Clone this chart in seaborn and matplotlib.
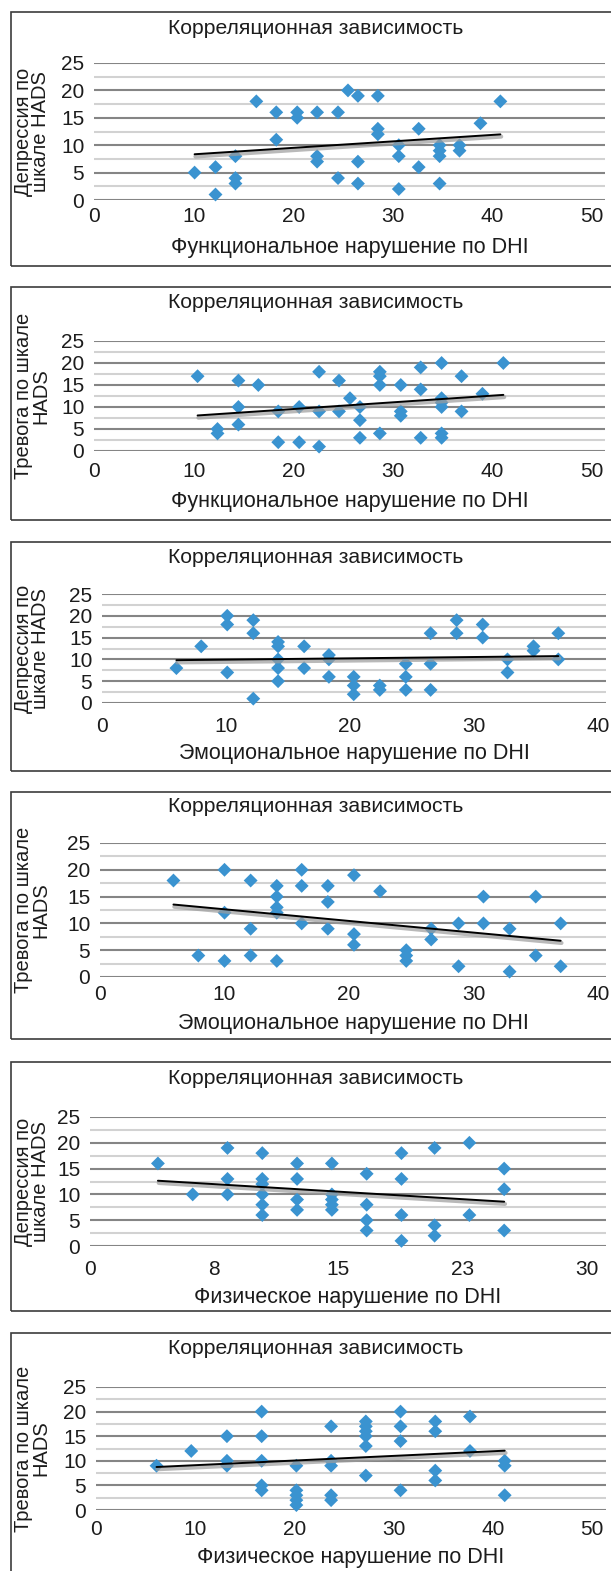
import numpy as np
import pandas as pd
import seaborn as sns
import matplotlib.pyplot as plt
import matplotlib.patheffects as pe
from matplotlib.patches import Rectangle

# ---------------- data ----------------
# 1) functional DHI vs depression
func_x1 = [10.1, 12.2, 12.2, 14.2, 14.2, 14.2, 16.3, 18.3, 18.3, 20.4, 20.4, 22.4,
           22.4, 22.4, 24.5, 24.5, 25.5, 26.5, 26.5, 26.5, 28.5, 28.5, 28.5, 30.6,
           30.6, 30.6, 32.6, 32.6, 34.7, 34.7, 34.7, 34.7, 36.7, 36.7, 38.8, 40.8]
depr_y1 = [5, 6, 1, 8, 4, 3, 18, 16, 11, 16, 15, 16,
           8, 7, 16, 4, 20, 19, 7, 3, 19, 13, 12, 10,
           8, 2, 13, 6, 10, 9, 8, 3, 10, 9, 14, 18]

# 2) functional DHI vs anxiety
func_x2 = [10.4, 12.4, 12.4, 14.5, 14.5, 14.5, 16.5, 18.5, 18.5, 20.6, 20.6, 22.6,
           22.6, 22.6, 24.6, 24.6, 25.7, 26.7, 26.7, 26.7, 28.7, 28.7, 28.7, 28.7,
           30.8, 30.8, 30.8, 32.8, 32.8, 32.8, 34.9, 34.9, 34.9, 34.9, 34.9, 34.9,
           36.9, 36.9, 39.0, 41.1]
anx_y2 = [17, 5, 4, 16, 10, 6, 15, 9, 2, 10, 2, 18,
          9, 1, 16, 9, 12, 10, 7, 3, 18, 17, 15, 4,
          15, 9, 8, 19, 14, 3, 20, 12, 11, 10, 4, 3,
          17, 9, 13, 20]

# 3) emotional DHI vs depression
emo_x3 = [6.0, 8.0, 10.1, 10.1, 10.1, 12.2, 12.2, 12.2, 14.2, 14.2, 14.2, 14.2, 14.2,
          16.3, 16.3, 18.3, 18.3, 18.3, 20.3, 20.3, 20.3, 22.4, 22.4, 24.5, 24.5, 24.5,
          26.5, 26.5, 26.5, 28.6, 28.6, 30.7, 30.7, 32.7, 32.7, 34.8, 34.8, 36.8, 36.8]
depr_y3 = [8, 13, 20, 18, 7, 19, 16, 1, 14, 13, 10, 8, 5,
           13, 8, 11, 10, 6, 6, 4, 2, 4, 3, 9, 6, 3,
           16, 9, 3, 19, 16, 18, 15, 10, 7, 13, 12, 16, 10]

# 4) emotional DHI vs anxiety
emo_x4 = [5.9, 7.9, 10.0, 10.0, 10.0, 12.1, 12.1, 12.1, 14.2, 14.2, 14.2, 14.2, 14.2,
          16.2, 16.2, 16.2, 18.3, 18.3, 18.3, 20.4, 20.4, 20.4, 22.5, 24.6, 24.6, 24.6,
          26.6, 26.6, 28.8, 28.8, 30.8, 30.8, 32.9, 32.9, 35.0, 35.0, 37.0, 37.0]
anx_y4 = [18, 4, 20, 12, 3, 18, 9, 4, 17, 15, 13, 12, 3,
          20, 17, 10, 17, 14, 9, 19, 8, 6, 16, 5, 4, 3,
          9, 7, 10, 2, 15, 10, 9, 1, 15, 4, 10, 2]

# 5) physical DHI vs depression
phys_x5 = [4.1, 6.2, 8.3, 8.3, 8.3, 10.4, 10.4, 10.4, 10.4, 10.4, 10.4, 12.5,
           12.5, 12.5, 12.5, 14.6, 14.6, 14.6, 14.6, 14.6, 16.7, 16.7, 16.7, 16.7,
           18.8, 18.8, 18.8, 18.8, 20.8, 20.8, 20.8, 22.9, 22.9, 25.0, 25.0, 25.0]
depr_y5 = [16, 10, 19, 13, 10, 18, 13, 12, 10, 8, 6, 16,
           13, 9, 7, 16, 10, 9, 8, 7, 14, 8, 5, 3,
           18, 13, 6, 1, 19, 4, 2, 20, 6, 15, 11, 3]

# 6) physical DHI vs anxiety
phys_x6 = [6.1, 9.6, 13.2, 13.2, 13.2, 16.7, 16.7, 16.7, 16.7, 16.7, 20.2, 20.2, 20.2,
           20.2, 20.2, 23.7, 23.7, 23.7, 23.7, 23.7, 27.2, 27.2, 27.2, 27.2, 27.2, 27.2,
           30.7, 30.7, 30.7, 30.7, 34.2, 34.2, 34.2, 34.2, 37.7, 37.7, 41.2, 41.2, 41.2]
anx_y6 = [9, 12, 15, 10, 9, 20, 15, 10, 5, 4, 9, 4, 3,
          2, 1, 17, 10, 9, 3, 2, 18, 17, 16, 15, 13, 7,
          20, 17, 14, 4, 18, 16, 8, 6, 19, 12, 10, 9, 3]

title = "Корреляционная зависимость"
ylab_depr = "Депрессия по\nшкале HADS"
ylab_anx = "Тревога по шкале\nHADS"
xlab_func = "Функциональное нарушение по DHI"
xlab_emo = "Эмоциональное нарушение по DHI"
xlab_phys = "Физическое нарушение по DHI"

ticks_50 = [0, 10, 20, 30, 40, 50]
ticks_40 = [0, 10, 20, 30, 40]
ticks_30 = [0, 7.5, 15, 22.5, 30]
ticklabels_30 = ["0", "8", "15", "23", "30"]

# ---------------- style ----------------
sns.set_theme(style="white")
plt.rcParams['font.family'] = ['Liberation Sans', 'DejaVu Sans']

BLUE = "#3a93d0"
TXT = "#1c1c1c"
W, H = 611, 1571
fig = plt.figure(figsize=(W / 100, H / 100), dpi=100)


def fx(px):
    return px / W


def fy(py):
    return 1 - py / H


# layout in pixels: frame top/bottom, plot left/right, pixel of last tick,
# rows of y=25 / y=0, title row, tick-label row, x-label row
panels = [
    dict(x=func_x1, y=depr_y1, ylab=ylab_depr, xlab=xlab_func, ticks=ticks_50, labels=None,
         frame=(12, 266), lr=(94, 605), last=592, rows=(63, 200), t=29, xt=214, xl=247),
    dict(x=func_x2, y=anx_y2, ylab=ylab_anx, xlab=xlab_func, ticks=ticks_50, labels=None,
         frame=(287, 520), lr=(94, 605), last=592, rows=(341, 451), t=302, xt=469, xl=501),
    dict(x=emo_x3, y=depr_y3, ylab=ylab_depr, xlab=xlab_emo, ticks=ticks_40, labels=None,
         frame=(542, 771), lr=(102, 606), last=598, rows=(594, 703), t=557, xt=724, xl=753),
    dict(x=emo_x4, y=anx_y4, ylab=ylab_anx, xlab=xlab_emo, ticks=ticks_40, labels=None,
         frame=(792, 1039), lr=(100, 606), last=598, rows=(843, 977), t=807, xt=992, xl=1024),
    dict(x=phys_x5, y=depr_y5, ylab=ylab_depr, xlab=xlab_phys, ticks=ticks_30, labels=ticklabels_30,
         frame=(1062, 1311), lr=(90, 606), last=587, rows=(1117, 1246), t=1078, xt=1267, xl=1298),
    dict(x=phys_x6, y=anx_y6, ylab=ylab_anx, xlab=xlab_phys, ticks=ticks_50, labels=None,
         frame=(1333, 1620), lr=(96, 606), last=592, rows=(1387, 1510), t=1348, xt=1527, xl=1557),
]

for p in panels:
    top, bottom = p['frame']
    fig.patches.append(Rectangle((fx(10.5), fy(bottom)), fx(700), (bottom - top) / H,
                                 transform=fig.transFigure, fill=False,
                                 edgecolor='#3c3c3c', linewidth=1.2))

    left, right = p['lr']
    r25, r0 = p['rows']
    ax = fig.add_axes([fx(left), fy(r0), (right - left) / W, (r0 - r25) / H])
    df = pd.DataFrame({'dhi': p['x'], 'hads': p['y']})

    # black linear trend with a soft grey shadow, as in the spreadsheet chart
    shadow = [pe.SimpleLineShadow(offset=(0.6, -1.6), shadow_color='#9c9c9c', alpha=0.7, linewidth=3),
              pe.Normal()]
    sns.regplot(data=df, x='dhi', y='hads', ax=ax, ci=None, marker='D', color=BLUE,
                scatter_kws=dict(s=50, edgecolor='none', alpha=1, zorder=3, clip_on=False),
                line_kws=dict(color='black', linewidth=1.4, zorder=4, path_effects=shadow))

    xmax = p['ticks'][-1]
    ax.set_xlim(0, xmax * (right - left) / (p['last'] - left))
    ax.set_ylim(0, 25)
    ax.set_xticks(p['ticks'])
    if p['labels'] is not None:
        ax.set_xticklabels(p['labels'])
    ax.set_yticks([0, 5, 10, 15, 20, 25])
    ax.set_yticks(np.arange(2.5, 25, 5), minor=True)
    ax.grid(which='major', axis='y', color='#858585', linewidth=1.5)
    ax.grid(which='minor', axis='y', color='#d2d2d2', linewidth=1.5)
    ax.grid(which='major', axis='x', visible=False)
    ax.set_axisbelow(True)
    for s in ax.spines.values():
        s.set_visible(False)
    xpad = max(p['xt'] - r0 - 7, 1) / 1.389
    ax.tick_params(axis='y', which='both', length=0, pad=7, labelsize=15, labelcolor=TXT)
    ax.tick_params(axis='x', which='both', length=0, pad=xpad, labelsize=15, labelcolor=TXT)
    ax.set_xlabel('')
    ax.set_ylabel('')

    fig.text(fx(316), fy(p['t']), title, ha='center', va='center', fontsize=15.2, color=TXT)
    fig.text(fx((left + right) / 2), fy(p['xl']), p['xlab'], ha='center', va='center',
             fontsize=15.5, color=TXT)
    fig.text(fx(32), fy((r25 + r0) / 2), p['ylab'], ha='center', va='center', rotation=90,
             fontsize=14.5, linespacing=0.9, multialignment='center', color=TXT)

fig.savefig("out.png", dpi=100)
